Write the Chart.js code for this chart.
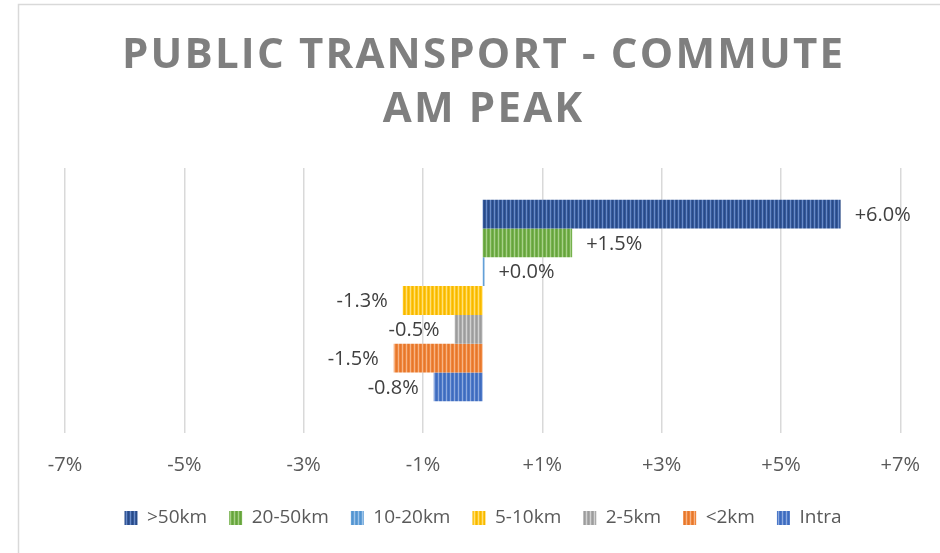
<!DOCTYPE html>
<html>
<head>
<meta charset="utf-8">
<script src="https://cdn.jsdelivr.net/npm/chart.js@4/dist/chart.umd.min.js"></script>
<style>
  html, body { margin: 0; padding: 0; background: #fff; overflow: hidden; }
  #wrap { width: 940px; height: 553px; }
</style>
</head>
<body>
<div id="wrap"><canvas id="chart" width="940" height="553"></canvas></div>
<script>
const categories = ['AM Peak'];
const seriesNames = ['>50km', '20-50km', '10-20km', '5-10km', '2-5km', '<2km', 'Intra'];
const seriesValues = [6.0, 1.5, 0.03, -1.34, -0.47, -1.49, -0.82];
const tickValues = [-7, -5, -3, -1, 1, 3, 5, 7];
const titleLines = ['PUBLIC TRANSPORT - COMMUTE', 'AM PEAK'];

// stripe colours per series: dark, base, light
const stripeColors = [
  ['#2a4a85', '#34599c', '#6a8bc6'],
  ['#66a33d', '#75b14c', '#a8d08a'],
  ['#5594cf', '#62a0d8', '#9fc4e9'],
  ['#f5b800', '#ffc619', '#ffe07a'],
  ['#9c9c9c', '#aaaaaa', '#d2d2d2'],
  ['#e5772c', '#ef853b', '#f6b486'],
  ['#3f6bbd', '#4b78c8', '#8eaade']
];

function stripe(c) {
  const cv = document.createElement('canvas');
  cv.width = 4; cv.height = 1;
  const g = cv.getContext('2d');
  [c[0], c[1], c[2], c[1]].forEach((col, i) => { g.fillStyle = col; g.fillRect(i, 0, 1, 1); });
  return g.createPattern(cv, 'repeat');
}

const font = 'Open Sans';

const decor = {
  id: 'decor',
  beforeDraw(chart) {
    const ctx = chart.ctx;
    ctx.save();
    ctx.fillStyle = '#fff';
    ctx.fillRect(0, 0, chart.width, chart.height);
    ctx.strokeStyle = '#d9d9d9';
    ctx.lineWidth = 1.5;
    ctx.strokeRect(18.5, 4.5, 1000, 1000);
    ctx.restore();
  },
  afterDraw(chart) {
    const ctx = chart.ctx;
    ctx.save();
    ctx.fillStyle = '#7f7f7f';
    ctx.font = 'bold 42px "' + font + '"';
    ctx.textBaseline = 'alphabetic';
    ctx.textAlign = 'left';
    // spread first line to the reference width
    const w0 = ctx.measureText(titleLines[0]).width;
    const sp = Math.max(0, (721 - w0) / (titleLines[0].length - 1));
    ctx.letterSpacing = sp + 'px';
    const cx = 482.5;
    [68, 122].forEach((y, i) => {
      const w = ctx.measureText(titleLines[i]).width - sp;
      ctx.fillText(titleLines[i], cx - w / 2, y);
    });
    ctx.restore();
  },
  afterDatasetsDraw(chart) {
    const ctx = chart.ctx;
    ctx.save();
    ctx.font = '20px "' + font + '"';
    ctx.fillStyle = '#404040';
    ctx.textBaseline = 'middle';
    chart.data.datasets.forEach((ds, i) => {
      const el = chart.getDatasetMeta(i).data[0];
      const v = ds.data[0];
      const txt = (v >= 0 ? '+' : '') + v.toFixed(1) + '%';
      if (v >= 0) { ctx.textAlign = 'left'; ctx.fillText(txt, el.x + 14, el.y + 1); }
      else { ctx.textAlign = 'right'; ctx.fillText(txt, el.x - 15, el.y + 1); }
    });
    ctx.restore();
  }
};

new Chart(document.getElementById('chart'), {
  type: 'bar',
  data: {
    labels: categories,
    datasets: seriesNames.map((n, i) => ({
      label: n,
      data: [seriesValues[i]],
      backgroundColor: stripe(stripeColors[i]),
      borderWidth: 0,
      categoryPercentage: 0.76,
      barPercentage: 1
    }))
  },
  options: {
    indexAxis: 'y',
    responsive: false,
    animation: false,
    layout: { padding: { left: 65, right: 39, top: 168, bottom: 15.5 } },
    scales: {
      x: {
        min: -7, max: 7,
        afterBuildTicks(s) { s.ticks = tickValues.map(v => ({ value: v })); },
        afterFit(s) { s.height = 53.5; },
        grid: { color: '#d9d9d9', lineWidth: 1.5, drawTicks: false },
        border: { display: false },
        ticks: {
          padding: 20,
          color: '#595959',
          font: { family: font, size: 20 },
          callback: v => (v > 0 ? '+' : '') + v + '%'
        }
      },
      y: { display: false }
    },
    plugins: {
      legend: {
        position: 'bottom',
        labels: {
          boxWidth: 13, boxHeight: 14, padding: 22,
          color: '#595959',
          font: { family: font, size: 19 }
        }
      },
      tooltip: { enabled: false }
    }
  },
  plugins: [decor]
});
</script>
</body>
</html>
